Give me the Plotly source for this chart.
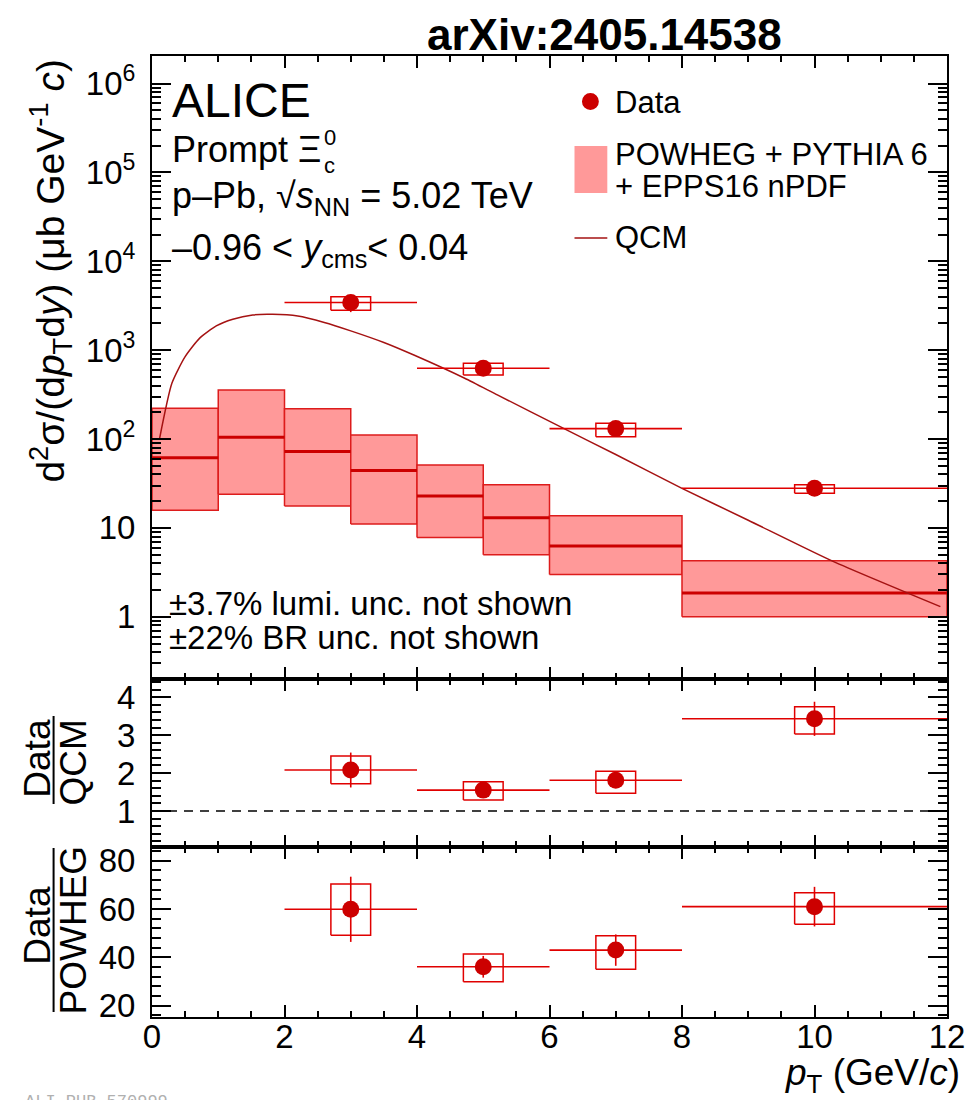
import plotly.graph_objects as go

# ---------------- data ----------------
pt = [3, 5, 7, 10]
pt_lo = [2, 4, 6, 8]
pt_hi = [4, 6, 8, 12]

xsec = [3440, 627, 131, 27.9]
xsec_stat = [760, 52, 16, 3.6]
xsec_syst_lo = [2820, 527, 106, 24.5]
xsec_syst_hi = [3990, 714, 151, 30.6]

powheg_lo_edge = [0, 1, 2, 3, 4, 5, 6, 8]
powheg_hi_edge = [1, 2, 3, 4, 5, 6, 8, 12]
powheg_central = [61.5, 104.5, 72.6, 44.4, 22.8, 13.0, 6.24, 1.85]
powheg_max = [222, 357, 219, 111, 50.9, 30.6, 13.7, 4.27]
powheg_min = [15.8, 24.0, 17.6, 11.1, 7.8, 5.0, 3.0, 1.0]

qcm_pt = [0.115, 0.30, 0.50, 0.72, 0.97, 1.22, 1.52, 1.82, 2.2, 2.6, 3.0, 3.5,
          3.97, 4.72, 5.22, 6.22, 7.0, 8.0, 9.0, 10.28, 11.9]
qcm_val = [102, 424, 845, 1365, 1875, 2230, 2490, 2530, 2420, 2050, 1650, 1220,
           870, 483, 312, 131, 67, 27.9, 12.2, 4.2, 1.30]

ratio_qcm = [2.08, 1.55, 1.81, 3.43]
ratio_qcm_stat = [0.46, 0.13, 0.20, 0.45]
ratio_qcm_syst_lo = [1.72, 1.29, 1.47, 3.03]
ratio_qcm_syst_hi = [2.45, 1.77, 2.05, 3.75]

ratio_powheg = [59.9, 36.1, 43.0, 61.0]
ratio_powheg_stat = [13.5, 4.5, 6.5, 8.2]
ratio_powheg_syst_lo = [49.2, 29.9, 35.1, 53.7]
ratio_powheg_syst_hi = [70.4, 41.4, 48.9, 66.8]

x_ticks = [0, 2, 4, 6, 8, 10, 12]
y_top_ticks = [1, 10, 100, 1e3, 1e4, 1e5, 1e6]
y_top_ticktext = ["1", "10", "10<sup>2</sup>", "10<sup>3</sup>", "10<sup>4</sup>",
                  "10<sup>5</sup>", "10<sup>6</sup>"]

# ---------------- style ----------------
FONT = "Liberation Sans, Arial, Helvetica, sans-serif"
RED = "#cc0000"
RED_LINE = "#e00000"
FILL = "#ff9999"
QCM_COL = "#a51212"
BOX_HW = 0.3

OFF = 8                       # page body margin of the browser
W, H = 977 - OFF, 1100 - OFF
# plot frame in window pixels
FL, FR, FT, FB = 152, 951.7, 56, 1017
ML, MT = FL - OFF, FT - OFF
MR = W - (FR - OFF)
MB = H - (FB - OFF)
PW = FR - FL
PH = FB - FT


def PX(px):
    return (px - FL) / PW


def PY(py):
    return (FB - py) / PH


d_bot = [0, 170 / PH]
d_mid = [170 / PH, 338 / PH]
d_top = [338 / PH, 1]

fig = go.Figure()


def box_path(xc, lo, hi):
    xs, ys = [], []
    for x, l, h in zip(xc, lo, hi):
        xs += [x - BOX_HW, x + BOX_HW, x + BOX_HW, x - BOX_HW, x - BOX_HW, None]
        ys += [l, l, h, h, l, None]
    return xs, ys


# POWHEG bands
for x0, x1, lo, hi in zip(powheg_lo_edge, powheg_hi_edge, powheg_min, powheg_max):
    fig.add_trace(go.Scatter(x=[x0, x1, x1, x0, x0], y=[lo, lo, hi, hi, lo],
                             mode="lines", fill="toself", fillcolor=FILL,
                             line=dict(color="#dd1c1c", width=1.5),
                             showlegend=False, hoverinfo="skip", xaxis="x", yaxis="y"))
cx, cy = [], []
for x0, x1, c in zip(powheg_lo_edge, powheg_hi_edge, powheg_central):
    cx += [x0, x1, None]
    cy += [c, c, None]
fig.add_trace(go.Scatter(x=cx, y=cy, mode="lines", line=dict(color="#cc0000", width=3),
                         showlegend=False, hoverinfo="skip", xaxis="x", yaxis="y"))

# QCM
fig.add_trace(go.Scatter(x=qcm_pt, y=qcm_val, mode="lines",
                         line=dict(color=QCM_COL, width=1.5, shape="spline", smoothing=0.6),
                         showlegend=False, xaxis="x", yaxis="y"))


def add_data(xaxis, yaxis, val, stat, slo, shi):
    bx, by = box_path(pt, slo, shi)
    fig.add_trace(go.Scatter(x=bx, y=by, mode="lines", line=dict(color=RED_LINE, width=1.5),
                             showlegend=False, hoverinfo="skip", xaxis=xaxis, yaxis=yaxis))
    fig.add_trace(go.Scatter(
        x=pt, y=val, mode="markers",
        marker=dict(color=RED, size=17, symbol="circle"),
        error_x=dict(type="data", array=[h - p for h, p in zip(pt_hi, pt)],
                     arrayminus=[p - l for p, l in zip(pt, pt_lo)],
                     width=0, thickness=1.6, color=RED_LINE),
        error_y=dict(type="data", array=stat, width=0, thickness=1.6, color=RED_LINE),
        showlegend=False, xaxis=xaxis, yaxis=yaxis))


add_data("x", "y", xsec, xsec_stat, xsec_syst_lo, xsec_syst_hi)

# unity line in middle panel
fig.add_trace(go.Scatter(x=[x_ticks[0], x_ticks[-1]], y=[1, 1], mode="lines",
                         line=dict(color="black", width=1.5, dash="9px,7px"),
                         showlegend=False, hoverinfo="skip", xaxis="x2", yaxis="y2"))
add_data("x2", "y2", ratio_qcm, ratio_qcm_stat, ratio_qcm_syst_lo, ratio_qcm_syst_hi)
add_data("x3", "y3", ratio_powheg, ratio_powheg_stat, ratio_powheg_syst_lo, ratio_powheg_syst_hi)

# ---------------- axes ----------------
axis_common = dict(showline=True, linecolor="black", linewidth=2, mirror="allticks",
                   ticks="inside", tickcolor="black", tickwidth=1.5,
                   showgrid=False, zeroline=False,
                   tickfont=dict(family=FONT, size=33, color="black"))

xcommon = dict(axis_common, range=[0, 12], tickmode="array", tickvals=x_ticks, ticklen=12,
               minor=dict(dtick=0.5, tick0=0, ticklen=6, ticks="inside", tickcolor="black",
                          tickwidth=1.5, showgrid=False))

minor_log = []
for e in range(-1, 7):
    for m in range(2, 10):
        minor_log.append(m * 10 ** e)

fig.update_layout(
    width=W, height=H,
    margin=dict(l=ML, r=MR, t=MT, b=MB, pad=0),
    paper_bgcolor="white", plot_bgcolor="white",
    font=dict(family=FONT, color="black"),
    showlegend=False,
    xaxis=dict(xcommon, anchor="y", showticklabels=False),
    xaxis2=dict(xcommon, anchor="y2", showticklabels=False),
    xaxis3=dict(xcommon, anchor="y3", showticklabels=True, ticklabelstandoff=-11),
    yaxis=dict(axis_common, domain=d_top, anchor="x", type="log", range=[-0.70, 6.31],
               tickmode="array", tickvals=y_top_ticks, ticktext=y_top_ticktext, ticklen=19,
               ticklabelstandoff=8,
               minor=dict(tickmode="array", tickvals=minor_log, ticklen=9, ticks="inside",
                          tickcolor="black", tickwidth=1.5, showgrid=False)),
    yaxis2=dict(axis_common, domain=d_mid, anchor="x2", range=[0.05, 4.48],
                tickmode="array", tickvals=[1, 2, 3, 4], ticklen=19, ticklabelstandoff=8,
                minor=dict(dtick=0.2, tick0=0, ticklen=9, ticks="inside", tickcolor="black",
                           tickwidth=1.5, showgrid=False)),
    yaxis3=dict(axis_common, domain=d_bot, anchor="x3", range=[15.3, 85.7],
                tickmode="array", tickvals=[20, 40, 60, 80], ticklen=19, ticklabelstandoff=8,
                minor=dict(dtick=4, tick0=0, ticklen=9, ticks="inside", tickcolor="black",
                           tickwidth=1.5, showgrid=False)),
)

ann = []


def txt(text, px, py, size, xanchor="left", yanchor="middle", angle=0, color="black",
        family=FONT):
    ann.append(dict(text=text, x=PX(px), y=PY(py), xref="paper", yref="paper",
                    xanchor=xanchor, yanchor=yanchor, showarrow=False, textangle=angle,
                    font=dict(family=family, size=size, color=color)))


txt("<b>arXiv:2405.14538</b>", 607, 8, 44, xanchor="center", yanchor="top")
txt("ALICE", 170, 100, 48)
txt("Prompt Ξ", 170, 150, 36)
txt("0", 323, 138, 22)
txt("c", 323, 165, 22)
txt("p–Pb, √<i>s</i><sub>NN</sub> = 5.02 TeV", 170, 198, 36)
txt("–0.96 < <i>y</i><sub>cms</sub>< 0.04", 170, 250, 36)
txt("±3.7% lumi. unc. not shown", 167, 603, 33)
txt("±22% BR unc. not shown", 167, 637, 33)

txt("Data", 616, 102, 31)
txt("POWHEG + PYTHIA 6", 616, 155, 31)
txt("+ EPPS16 nPDF", 616, 187, 31)
txt("QCM", 616, 238, 31)

txt("d<sup>2</sup>σ/(d<i>p</i><sub>T</sub>d<i>y</i>) (μb GeV<sup>-1</sup> <i>c</i>)",
    50, 57, 39, xanchor="center", yanchor="top", angle=-90)

txt("Data", 36, 758, 37, xanchor="center", angle=-90)
txt("QCM", 73, 762, 37, xanchor="center", angle=-90)
txt("Data", 36, 925, 37, xanchor="center", angle=-90)
txt("POWHEG", 73, 930, 37, xanchor="center", angle=-90)

txt("<i>p</i><sub>T</sub> (GeV/<i>c</i>)", 967, 1100, 37, xanchor="right", yanchor="bottom")
txt("ALI-PUB-570999", 22, 1090, 17, yanchor="top", color="#b0b0b0",
    family="Liberation Mono, DejaVu Sans Mono, monospace")

fig.update_layout(annotations=ann)

# legend symbols and fraction bars (paper coords)
shapes = [
    dict(type="circle", xref="paper", yref="paper", x0=PX(584.5), x1=PX(601.5),
         y0=PY(110), y1=PY(93), fillcolor=RED, line=dict(width=0)),
    dict(type="rect", xref="paper", yref="paper", x0=PX(577), x1=PX(610),
         y0=PY(193), y1=PY(146), fillcolor=FILL, line=dict(width=0)),
    dict(type="line", xref="paper", yref="paper", x0=PX(577), x1=PX(610),
         y0=PY(238), y1=PY(238), line=dict(color=QCM_COL, width=1.5)),
    dict(type="line", xref="paper", yref="paper", x0=PX(53), x1=PX(53),
         y0=PY(716), y1=PY(804), line=dict(color="black", width=2)),
    dict(type="line", xref="paper", yref="paper", x0=PX(53), x1=PX(53),
         y0=PY(848), y1=PY(1012), line=dict(color="black", width=2)),
]
fig.update_layout(shapes=shapes)

fig.write_html("out.html")
